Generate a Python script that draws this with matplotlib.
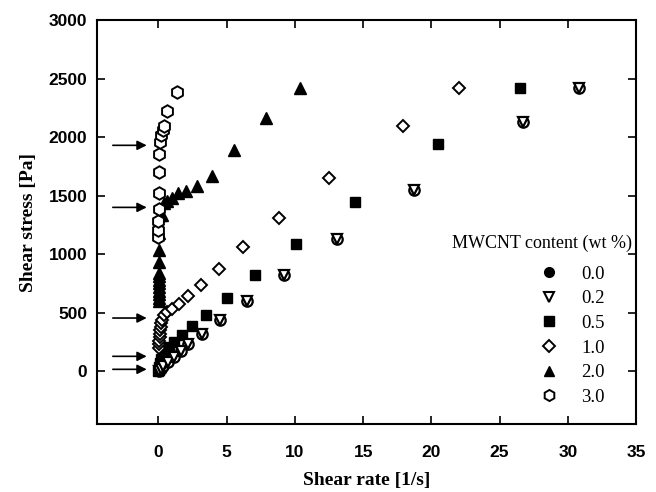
import matplotlib
matplotlib.use("Agg")
import matplotlib.pyplot as plt
from matplotlib.lines import Line2D

# flow curves of the MWCNT suspensions, shear rate [1/s] vs shear stress [Pa]
rate_00 = [0.05, 0.15, 0.34, 0.68, 1.12, 1.66, 2.2, 3.2, 4.5, 6.5, 9.2, 13.1, 18.7, 26.7, 30.8]
stress_00 = [5, 20, 43, 80, 122, 174, 236, 316, 442, 601, 820, 1128, 1547, 2131, 2416]

rate_02 = [0.05, 0.15, 0.34, 0.68, 1.12, 1.66, 2.2, 3.2, 4.5, 6.5, 9.2, 13.1, 18.7, 26.7, 30.8]
stress_02 = [5, 20, 43, 80, 122, 174, 236, 316, 442, 601, 820, 1128, 1547, 2131, 2416]

rate_05 = [0.0, 0.02, 0.05, 0.1, 0.2, 0.4, 0.76, 1.17, 1.74, 2.47, 3.5, 5.0, 7.1, 10.1, 14.4, 20.5, 26.5]
stress_05 = [0, 15, 40, 70, 105, 150, 208, 250, 308, 385, 485, 630, 820, 1091, 1447, 1940, 2416]

rate_10 = [0.02, 0.04, 0.06, 0.08, 0.1, 0.12, 0.15, 0.2, 0.25, 0.39, 0.64, 1.0, 1.49, 2.18, 3.1, 4.4, 6.2, 8.8, 12.5, 17.9, 22.0]
stress_10 = [200, 230, 260, 290, 320, 350, 380, 410, 440, 479, 507, 536, 578, 645, 735, 872, 1063, 1310, 1647, 2094, 2416]

rate_20 = [0.02, 0.02, 0.03, 0.03, 0.04, 0.04, 0.05, 0.05, 0.06, 0.07, 0.07, 0.07, 0.1,
           0.27, 0.39, 0.64, 1.0, 1.42, 2.05, 2.79, 3.93, 5.57, 7.9, 10.4]
stress_20 = [600, 630, 660, 690, 720, 750, 780, 810, 840, 934, 1034, 1180, 1335,
             1333, 1439, 1456, 1484, 1519, 1541, 1581, 1667, 1889, 2162, 2418]

rate_30 = [0.0, 0.0, 0.0, 0.03, 0.05, 0.05, 0.05, 0.1, 0.22, 0.34, 0.44, 0.59, 1.37]
stress_30 = [1143, 1205, 1282, 1385, 1527, 1698, 1860, 1960, 2017, 2060, 2094, 2222, 2388]

contents = ["0.0", "0.2", "0.5", "1.0", "2.0", "3.0"]

# stress levels marked by the arrows on the left
arrow_levels = [1930, 1400, 455, 128, 17]

plt.rcParams["axes.linewidth"] = 1.5
fig = plt.figure(figsize=(6.56, 4.92), dpi=100)
ax = fig.add_axes([0.148, 0.1382, 0.8215, 0.8211])

ms = 7.5
ax.plot(rate_00, stress_00, "o", ms=ms, mfc="white", mec="black", mew=1.6, ls="none", zorder=3)
ax.plot(rate_02, stress_02, "v", ms=ms, mfc="white", mec="black", mew=1.6, ls="none", zorder=4)
ax.plot(rate_05, stress_05, "s", ms=7.5, mfc="black", mec="black", ls="none", zorder=3)
ax.plot(rate_10, stress_10, "D", ms=6.5, mfc="white", mec="black", mew=1.4, ls="none", zorder=3)
ax.plot(rate_20, stress_20, "^", ms=8, mfc="black", mec="black", ls="none", zorder=3)
ax.plot(rate_30, stress_30, "h", ms=9, mfc="white", mec="black", mew=1.4, ls="none", zorder=3)

for lev in arrow_levels:
    ax.annotate("", xy=(-0.66, lev), xytext=(-3.55, lev),
                arrowprops=dict(arrowstyle="-|>", color="black", lw=1.2, mutation_scale=14))

ax.set_xlim(-4.5, 35)
ax.set_ylim(-450, 3000)
ax.set_xticks(range(0, 36, 5))
ax.set_yticks(range(0, 3001, 500))
ax.tick_params(direction="in", length=6, width=1.2, top=True, right=True,
               labelsize=12.5)
ax.tick_params(axis="x", pad=15)
ax.tick_params(axis="y", pad=7)
for lab in ax.get_xticklabels() + ax.get_yticklabels():
    lab.set_fontfamily("Liberation Sans")
    lab.set_fontweight("bold")

ax.set_xlabel("Shear rate [1/s]", family="Liberation Serif", weight="bold", fontsize=14)
ax.set_ylabel("Shear stress [Pa]", family="Liberation Serif", weight="bold", fontsize=14)
ax.xaxis.label.set_va("center")
ax.yaxis.label.set_va("center")
ax.xaxis.set_label_coords(0.5, -0.141)
ax.yaxis.set_label_coords(-0.127, 0.5)

handles = [
    Line2D([], [], marker="o", ms=7, mfc="black", mec="black", ls="none"),
    Line2D([], [], marker="v", ms=7, mfc="white", mec="black", mew=1.5, ls="none"),
    Line2D([], [], marker="s", ms=6.5, mfc="black", mec="black", ls="none"),
    Line2D([], [], marker="D", ms=6, mfc="white", mec="black", mew=1.4, ls="none"),
    Line2D([], [], marker="^", ms=7.5, mfc="black", mec="black", ls="none"),
    Line2D([], [], marker="h", ms=8, mfc="white", mec="black", mew=1.4, ls="none"),
]
ax.legend(handles, contents, loc="upper left", bbox_to_anchor=(0.822, 0.392),
          frameon=False, borderpad=0, borderaxespad=0, handlelength=1.0,
          handletextpad=1.2, labelspacing=0.4,
          prop={"family": "Liberation Serif", "size": 13.5})
ax.text(0.9926, 0.448, "MWCNT content (wt %)", transform=ax.transAxes,
        ha="right", va="center", family="Liberation Serif", fontsize=13)

fig.savefig("out.png", dpi=100)
